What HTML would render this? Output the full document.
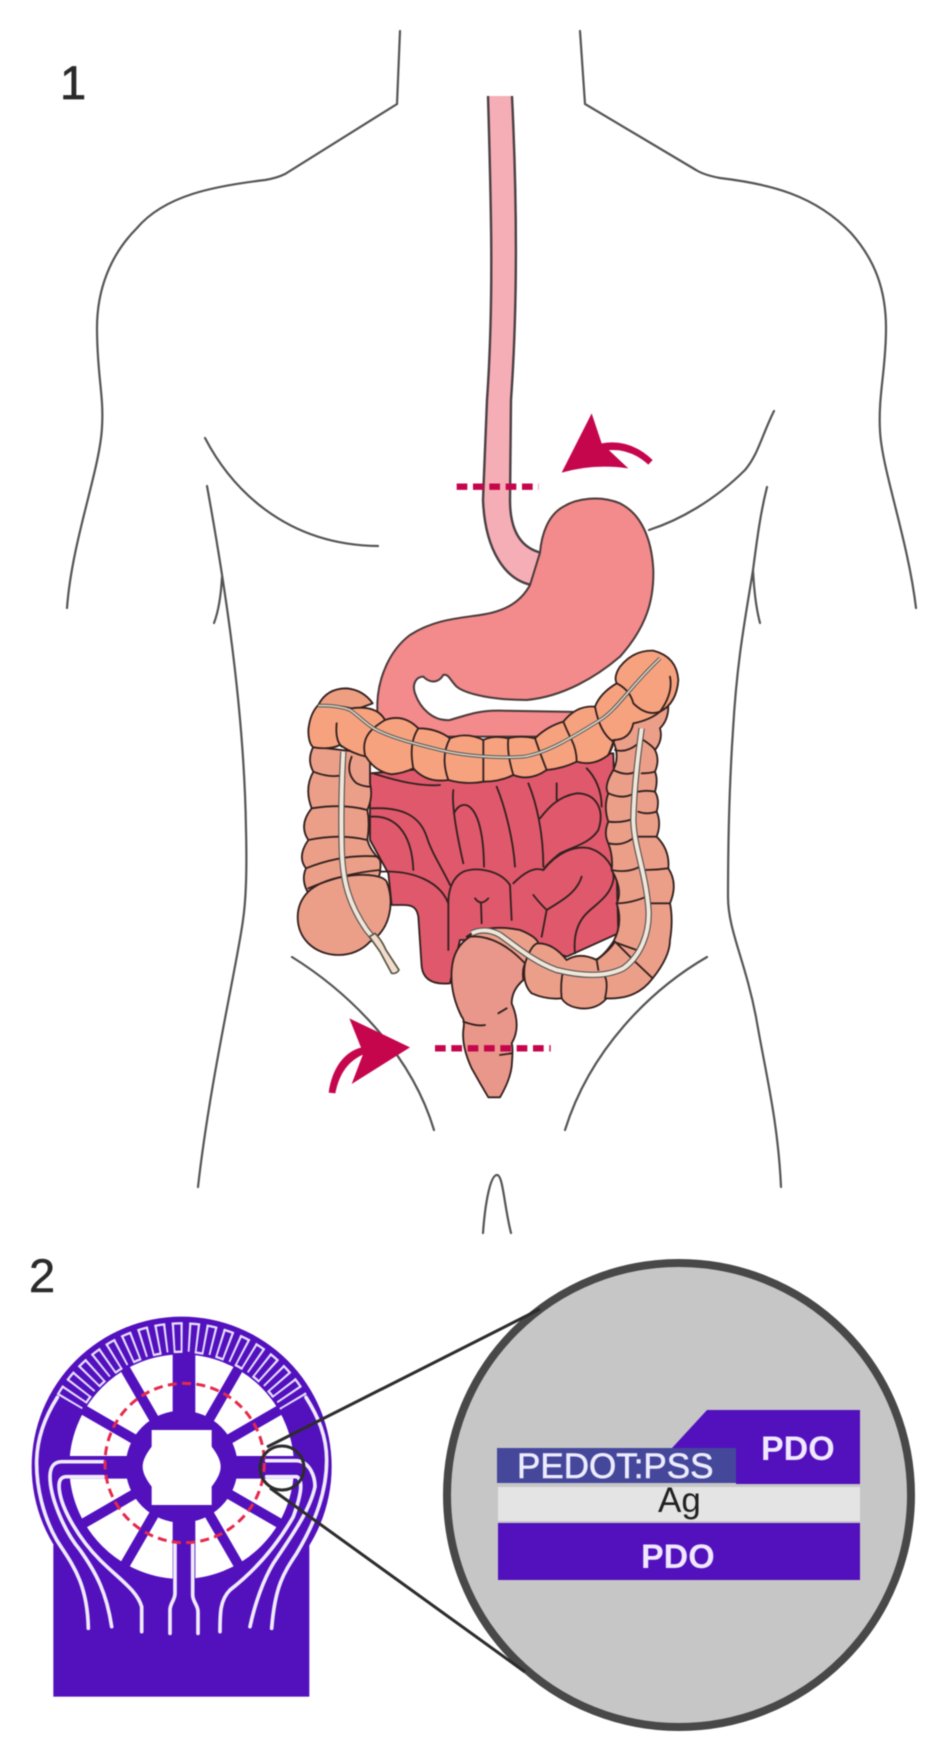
<!DOCTYPE html>
<html><head><meta charset="utf-8"><title>Diagram</title>
<style>html,body{margin:0;padding:0;background:#fff;width:948px;height:1762px;overflow:hidden}svg{display:block;filter:blur(.5px)}text{font-family:"Liberation Sans",Arial,sans-serif}</style></head>
<body>
<svg width="948" height="1762" viewBox="0 0 948 1762" xmlns="http://www.w3.org/2000/svg">
<rect width="948" height="1762" fill="#fff"/>
<text x="60" y="99" font-size="47" fill="#2a2a2a" stroke="#2a2a2a" stroke-width=".7">1</text>
<text x="29" y="1292" font-size="47" fill="#2a2a2a" stroke="#2a2a2a" stroke-width=".5">2</text>
<!-- body -->
<g fill="none" stroke="#555" stroke-width="2.2" stroke-linecap="round">
<path d="M400 31L397 104L285 174Q277 178 265 180C215 186 165 195 137 228C110 255 97 290 97 328C97 375 104 395 102 427C100 470 72 540 67 608"/>
<path d="M205 438C230 486 283 545 378 546"/>
<path d="M207 486C215 530 222 570 230 630C238 690 245 760 246 830C247 870 246 900 243 920C238 960 210 1080 198 1187"/>
<path d="M222 577C221 595 219 610 214 623"/>
<path d="M580 31L585 104L696 170Q704 175 720 178C770 184 815 195 851 233C875 260 886 290 886 328C886 370 878 395 880 431C882 470 908 540 916 608"/>
<path d="M774 411C762 435 758 455 745 470C715 500 680 520 649 530"/>
<path d="M767 487C760 515 757 540 753 570C745 620 737 660 733 730C729 790 728 850 728 897C728 930 745 960 756 1017C765 1070 778 1120 781 1187"/>
<path d="M753 570C754 590 756 608 760 623"/>
<path d="M292 957C345 990 410 1050 434 1130"/>
<path d="M707 957C650 990 590 1050 565 1130"/>
<path d="M483 1233C485 1205 490 1175 497 1175C503 1175 504 1205 511 1233"/>
</g>
<!-- esophagus -->
<path d="M488 96L512 96C517 200 518 300 511 400L510 500C510 530 520 548 542 553L530 586C505 580 485 550 483 500L487 400C494 300 491 200 488 96Z" fill="#f6aeb6"/>
<g fill="none" stroke="#4a4044" stroke-width="2.4"><path d="M488 96C491 200 494 300 487 400L483 500C485 550 505 580 532 585"/><path d="M512 96C517 200 518 300 511 400L510 500C510 530 520 548 542 553"/></g>
<!-- stomach -->
<g transform="translate(300 400) scale(.33333)">
<path d="M720 458C725 400 745 345 790 320C830 295 900 285 960 310C1020 340 1055 410 1060 510C1062 600 1040 680 960 770C890 830 790 890 680 900C590 900 500 885 470 860C450 840 445 820 430 825C415 850 390 850 370 830C350 830 335 850 345 880C360 925 400 965 450 960C500 945 540 930 600 932L835 936L770 1010L232 1010L232 910C235 830 270 750 330 705C400 660 470 655 540 645C610 635 660 610 690 555Z" fill="#f38a8c" stroke="#4a3a3a" stroke-width="6"/>
</g>
<!-- intestines -->
<g transform="translate(280 640) scale(.33333)" stroke="#33211f" stroke-width="5.5" fill="none" stroke-linejoin="round" stroke-linecap="round">
<path d="M270 400L1000 340L1015 880L860 950L720 900L540 900L510 1030C460 1035 430 1020 425 980L415 830C410 800 395 795 370 795L335 795L325 700L270 600Z" fill="#e0586c"/>
<path d="M275 505C370 500 420 530 440 590C455 640 490 690 510 735"/>
<path d="M270 530C340 525 395 570 400 690"/>
<path d="M300 695C400 690 480 725 505 790L505 930"/>
<path d="M520 450C515 490 525 560 550 670"/>
<path d="M522 520C545 470 610 480 612 680"/>
<path d="M650 440C675 500 700 600 705 680"/>
<path d="M745 430C770 490 790 580 790 680"/>
<path d="M830 430L830 480"/>
<path d="M780 535C800 510 830 470 890 460C950 460 975 510 955 570C930 610 880 620 840 640C815 660 795 680 790 690"/>
<path d="M700 730C730 700 760 680 790 690C830 640 880 615 930 625C975 640 1005 680 1000 720C990 770 950 790 920 820C890 850 880 890 885 940"/>
<path d="M690 735C660 690 590 680 550 695C520 710 505 745 505 790"/>
<path d="M690 735L695 840"/>
<path d="M605 850L603 790M585 775Q603 800 625 775"/>
<path d="M760 765C775 785 790 800 800 810C840 785 890 760 905 710"/>
<path d="M800 810L785 890"/>
<path d="M920 385C945 410 965 450 965 500"/>
<path d="M280 400C340 420 420 440 480 435"/>
<!-- ascending -->
<path d="M115 195Q140 145 200 145Q250 150 278 190L210 215Z" fill="#ee9f82"/>
<path d="M100 320Q80 360 100 395Q72 445 95 505Q55 555 85 600Q50 650 78 685Q62 720 85 760L295 720Q305 680 300 660Q270 630 262 600Q270 550 262 510Q280 470 270 430L270 340Z" fill="#eb9f89"/>
<path d="M85 755C40 800 45 870 85 910C130 955 220 960 270 905C330 870 345 790 320 725C300 690 140 700 85 755Z" fill="#eb9f89"/>
<path d="M100 395Q150 415 190 405M95 505Q190 490 262 510M85 600Q180 580 262 600M78 685Q190 640 297 650M85 745Q190 700 300 690M215 350Q195 400 230 430Q250 440 270 440"/>
<!-- descending -->
<path d="M1000 305Q1020 350 1000 390Q970 440 985 460Q970 500 985 545Q970 580 985 610Q1000 650 995 690Q1030 750 1010 790Q1030 850 1000 905Q970 950 945 960L1118 1015Q1170 950 1170 900Q1180 840 1170 790Q1195 730 1165 685Q1170 630 1130 590Q1145 550 1130 515Q1140 480 1125 455Q1135 420 1125 395Q1140 360 1125 330Q1150 300 1140 265Q1165 240 1165 200L1060 250Z" fill="#eb9f89"/>
<path d="M1005 330Q1040 340 1075 310M1000 390Q1040 410 1065 395M985 460Q1030 480 1062 460M985 545Q1030 550 1062 535M985 610Q1030 620 1065 590M995 690Q1040 700 1080 680M1010 790Q1050 790 1100 770M1000 905Q1040 920 1070 930M1090 300Q1120 320 1125 330M1085 400Q1110 400 1125 395M1075 455Q1100 450 1125 455M1075 515Q1100 525 1130 515M1070 590Q1100 590 1130 590M1095 690Q1130 690 1165 685M1105 790Q1140 790 1170 790M1060 960Q1090 1000 1115 1015"/>
<!-- rectum -->
<path d="M570 890Q520 920 515 990Q510 1060 545 1130Q555 1140 550 1170Q545 1220 575 1285Q600 1330 625 1372L660 1372Q690 1320 695 1280Q700 1220 695 1210Q725 1160 695 1090Q695 1050 730 1020Q725 980 740 965Q660 880 570 890Z" fill="#e8978a"/>
<path d="M655 1120L680 1105M550 1145Q590 1160 615 1155M660 1245L695 1240"/>
<!-- sigmoid -->
<path d="M560 890Q620 850 720 870Q770 890 775 910Q820 910 860 960Q900 935 950 960Q990 930 1005 905L1060 960L1118 1015Q1070 1080 980 1075Q950 1110 900 1105Q860 1100 845 1075Q800 1080 755 1060Q725 1030 735 970Q650 880 560 890Z" fill="#eb9f89"/>
<path d="M845 1075Q840 1030 850 990M975 1075Q985 1030 975 1010M950 960L955 990M735 970Q755 910 775 910"/>
<!-- transverse -->
<path d="M115 195Q90 220 85 270Q85 310 100 322Q150 330 180 315Q215 340 258 350Q285 395 335 403Q370 400 400 385Q440 430 505 420Q560 435 610 425Q660 425 700 405Q750 425 800 390Q850 385 890 365Q940 380 985 345Q1000 310 1000 300Q1050 300 1060 250Q1110 240 1140 215Q1190 190 1195 120Q1190 50 1120 32Q1060 30 1020 80Q1000 110 1010 130Q960 160 945 200Q890 195 850 245Q800 260 765 295Q720 285 685 295Q640 285 610 300Q560 275 510 295Q470 265 415 265Q370 220 315 240Q290 195 215 205Q170 195 115 195Z" fill="#f6a27e"/>
<path d="M170 250Q165 300 185 320M255 345Q245 300 275 270Q290 255 315 240M400 385Q385 310 415 265M505 420Q480 350 510 295M610 425Q610 360 610 300M700 405Q680 340 685 295M800 390Q780 340 765 295M890 365Q890 330 875 300Q860 270 850 245M985 345Q1000 320 1000 305Q960 280 945 200M1010 130Q1050 150 1060 190Q1100 230 1140 215M1170 110Q1180 160 1140 215"/>
<!-- tubes -->
<g stroke-linecap="butt">
<path d="M115 197Q170 195 210 210C240 230 260 255 290 270C340 295 400 310 480 330C560 350 660 355 730 350C800 340 880 290 960 240C1010 210 1050 140 1140 55" stroke="#555" stroke-width="11"/>
<path d="M115 197Q170 195 210 210C240 230 260 255 290 270C340 295 400 310 480 330C560 350 660 355 730 350C800 340 880 290 960 240C1010 210 1050 140 1140 55" stroke="#d8d0c0" stroke-width="5"/>
<path d="M1085 265C1075 340 1062 440 1060 540C1062 620 1095 690 1105 800C1112 880 1080 950 1030 985C970 1015 890 1005 830 990C760 965 710 920 660 885C630 868 600 868 575 880" stroke="#555" stroke-width="19"/>
<path d="M1085 265C1075 340 1062 440 1060 540C1062 620 1095 690 1105 800C1112 880 1080 950 1030 985C970 1015 890 1005 830 990C760 965 710 920 660 885C630 868 600 868 575 880" stroke="#f0e7da" stroke-width="12"/>
<path d="M190 335C185 420 183 520 185 620C187 720 205 790 260 870C285 900 310 930 345 995" stroke="#555" stroke-width="19"/>
<path d="M190 335C185 420 183 520 185 620C187 720 205 790 260 870C285 900 310 930 345 995" stroke="#f0e7da" stroke-width="12"/>
</g>
<path d="M285 880Q305 900 318 930L357 990Q350 1002 335 1000L300 935L268 890Z" fill="#f3dccb" stroke="#554" stroke-width="5"/>
</g>
<!-- red arrows -->
<g fill="#c5064c" transform="translate(300 400) scale(.33333)">
<path d="M875 40L905 130L985 205Q880 190 785 218Z"/>
<path d="M905 130Q990 115 1058 180L1045 194Q985 140 915 152Z"/>
<g fill="none" stroke="#c5064c" stroke-width="19" stroke-dasharray="32 17"><path d="M470 260H716"/></g>
</g>
<g fill="#c5064c" transform="translate(280 640) scale(.33333)">
<path d="M208 1135L390 1222L215 1332L250 1240Z"/>
<path d="M146 1358C155 1290 190 1235 245 1222L258 1240C205 1260 178 1300 166 1360Z"/>
<g fill="none" stroke="#c5064c" stroke-width="19" stroke-dasharray="32 17"><path d="M465 1225H812"/></g>
</g>
<!-- sensor -->
<g transform="translate(0 1240) scale(.33333)">
<rect x="160" y="915" width="768" height="455" fill="#5311bd"/>
<circle cx="545" cy="680" r="450" fill="#5311bd"/>
<circle cx="545" cy="680" r="252" fill="none" stroke="#fff" stroke-width="170"/>
<g stroke="#5311bd" stroke-width="30">
<path d="M545 680L715 386M545 680L375 386M545 680L375 974M545 680L715 974"/>
<path d="M545 680L839 510M545 680L251 510M545 680L251 850M545 680L839 850"/>
</g>
<path d="M552 340V1030" stroke="#5311bd" stroke-width="68" fill="none"/>
<path d="M190 682H900" stroke="#5311bd" stroke-width="68" fill="none"/>
<circle cx="545" cy="680" r="168" fill="#5311bd"/>
<path d="M455 570H635V620C650 640 662 660 662 680C662 700 650 720 635 740V795H455V740C440 720 428 700 428 680C428 660 440 640 455 620Z" fill="#fff"/>
<g fill="none" stroke="#e6deff">
<path d="M209 486A388 388 0 0 1 881 486" pathLength="120" stroke-width="85" stroke-dasharray=".9 2.6"/>
<path d="M172.6 465A430 430 0 0 1 917.4 465" pathLength="120" stroke-width="7" stroke-dasharray="4.4 2.6"/>
<path d="M246.2 507.5A345 345 0 0 1 843.8 507.5" pathLength="120" stroke-width="7" stroke-dasharray="0 3.5 4.4 2.6"/>
</g>
<g fill="none" stroke="#f0eaff" stroke-width="11" stroke-linecap="round" stroke-linejoin="round">
<path d="M172 472C135 530 112 590 110 660C108 740 130 830 170 900C210 965 262 1020 265 1165"/>
<path d="M310 665H185C160 665 150 685 150 710C150 770 190 870 240 930C290 1000 320 1060 335 1160"/>
<path d="M310 710H200C180 710 175 725 178 750C185 810 240 900 300 960C360 1020 410 1050 425 1100V1175"/>
<path d="M918 472C955 530 980 590 980 660C980 750 950 840 890 940C850 1000 825 1040 815 1165"/>
<path d="M800 662H890C930 665 945 710 945 740C930 810 880 880 820 970C790 1020 765 1090 750 1160"/>
<path d="M800 710H890C910 720 905 760 880 830C840 900 780 980 690 1050C660 1080 660 1120 660 1175"/>
<path d="M525 910V1060C525 1080 510 1090 510 1110V1180"/>
<path d="M578 910V1065C578 1085 594 1095 594 1115V1180"/>
</g>
<circle cx="554" cy="669" r="239" fill="none" stroke="#e42a4c" stroke-width="9" stroke-dasharray="27 16"/>
</g>
<!-- magnifier -->
<circle cx="679" cy="1495" r="232" fill="#c6c6c6" stroke="#484848" stroke-width="8"/>
<!-- callout lines -->
<g fill="none" stroke="#2c2c2c" stroke-width="3">
<path d="M267 1447L540 1309"/>
<path d="M270 1488L525 1672"/>
<circle cx="282" cy="1468" r="22"/>
</g>
<path d="M497 1448H736V1483H497Z" fill="#45489a"/>
<path d="M672 1448L707 1410H860V1484H736V1448Z" fill="#5311bd"/>
<rect x="498" y="1487" width="362" height="34" fill="#e4e4e4"/>
<rect x="498" y="1523" width="362" height="57" fill="#5311bd"/>
<text x="517" y="1478" font-size="35" fill="#ecebff" stroke="#ecebff" stroke-width=".6">PEDOT:PSS</text>
<text x="761" y="1460" font-size="34" font-weight="bold" fill="#f0e8ff">PDO</text>
<text x="641" y="1568" font-size="34" font-weight="bold" fill="#f0e8ff">PDO</text>
<text x="658" y="1512" font-size="35" fill="#222">Ag</text>
</svg>
</body></html>
